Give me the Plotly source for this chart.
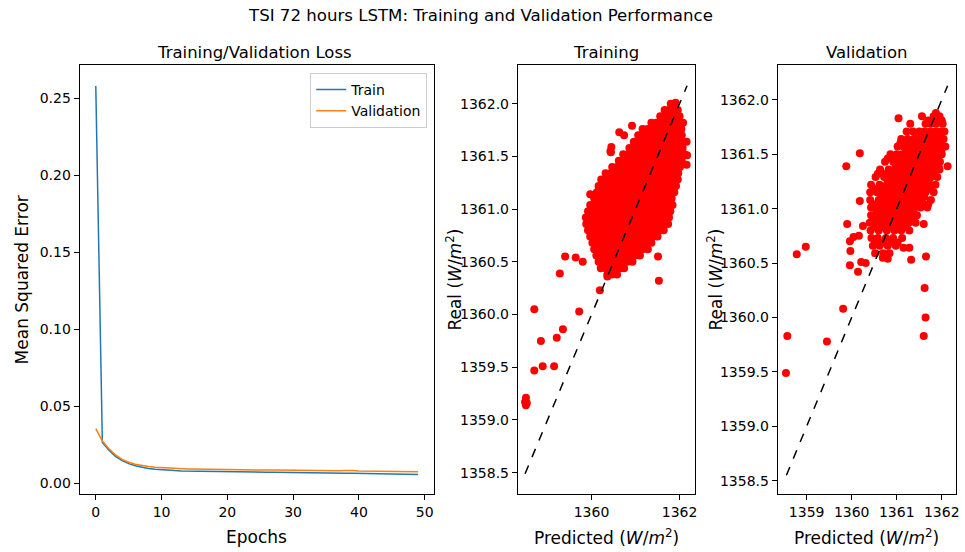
import plotly.graph_objects as go

# ---------------- data ----------------
epochs = list(range(50))
train_loss = [0.258, 0.0265, 0.0215, 0.0175, 0.0148, 0.0128, 0.0114, 0.0104, 0.0097, 0.0092,
              0.0088, 0.0085, 0.0083, 0.0081, 0.0080, 0.0079, 0.0078, 0.0077, 0.0076, 0.0076,
              0.0075, 0.0075, 0.0074, 0.0074, 0.0073, 0.0073, 0.0072, 0.0072, 0.0071, 0.0071,
              0.0070, 0.0070, 0.0069, 0.0069, 0.0068, 0.0068, 0.0067, 0.0067, 0.0066, 0.0066,
              0.0065, 0.0065, 0.0064, 0.0063, 0.0063, 0.0062, 0.0061, 0.0060, 0.0059, 0.0058]
val_loss = [0.0355, 0.0275, 0.0225, 0.0185, 0.0156, 0.0137, 0.0124, 0.0115, 0.0109, 0.0105,
            0.0102, 0.0099, 0.0097, 0.0095, 0.0094, 0.0093, 0.0092, 0.0091, 0.0090, 0.0090,
            0.0089, 0.0089, 0.0088, 0.0088, 0.0087, 0.0087, 0.0086, 0.0087, 0.0086, 0.0085,
            0.0085, 0.0085, 0.0084, 0.0084, 0.0083, 0.0083, 0.0082, 0.0082, 0.0083, 0.0084,
            0.0080, 0.0079, 0.0079, 0.0078, 0.0078, 0.0077, 0.0077, 0.0076, 0.0076, 0.0075]

# Training scatter: dense cloud, one real value per row with its predicted values
train_cloud_real = [1362.00, 1361.94, 1361.88, 1361.82, 1361.76, 1361.70, 1361.64, 1361.58,
                    1361.52, 1361.46, 1361.40, 1361.34, 1361.28, 1361.22, 1361.16, 1361.10,
                    1361.04, 1360.98, 1360.92, 1360.86, 1360.80, 1360.74, 1360.68, 1360.62,
                    1360.56, 1360.50, 1360.44, 1360.38]
train_cloud_pred = [
    [1361.80, 1361.90],
    [1361.66, 1361.76, 1361.86, 1361.96],
    [1361.56, 1361.67, 1361.78, 1361.89, 1362.00],
    [1361.36, 1361.47, 1361.58, 1361.69, 1361.80, 1361.91, 1362.02, 1362.08],
    [1361.16, 1361.27, 1361.38, 1361.49, 1361.60, 1361.71, 1361.82, 1361.93, 1362.04],
    [1361.06, 1361.17, 1361.28, 1361.39, 1361.50, 1361.61, 1361.72, 1361.83, 1361.94, 1362.05],
    [1360.96, 1361.07, 1361.18, 1361.29, 1361.40, 1361.51, 1361.62, 1361.73, 1361.84, 1361.95, 1362.06],
    [1360.86, 1360.97, 1361.08, 1361.19, 1361.30, 1361.41, 1361.52, 1361.63, 1361.74, 1361.85, 1361.96, 1362.07],
    [1360.72, 1360.83, 1360.94, 1361.05, 1361.16, 1361.27, 1361.38, 1361.49, 1361.60, 1361.71, 1361.82, 1361.93, 1362.04, 1362.11],
    [1360.62, 1360.73, 1360.84, 1360.95, 1361.06, 1361.17, 1361.28, 1361.39, 1361.50, 1361.61, 1361.72, 1361.83, 1361.94, 1362.05],
    [1360.47, 1360.58, 1360.69, 1360.80, 1360.91, 1361.02, 1361.13, 1361.24, 1361.35, 1361.46, 1361.57, 1361.68, 1361.79, 1361.90, 1362.01],
    [1360.32, 1360.43, 1360.54, 1360.65, 1360.76, 1360.87, 1360.98, 1361.09, 1361.20, 1361.31, 1361.42, 1361.53, 1361.64, 1361.75, 1361.86, 1361.97],
    [1360.22, 1360.33, 1360.44, 1360.55, 1360.66, 1360.77, 1360.88, 1360.99, 1361.10, 1361.21, 1361.32, 1361.43, 1361.54, 1361.65, 1361.76, 1361.87, 1361.96],
    [1360.16, 1360.27, 1360.38, 1360.49, 1360.60, 1360.71, 1360.82, 1360.93, 1361.04, 1361.15, 1361.26, 1361.37, 1361.48, 1361.59, 1361.70, 1361.81, 1361.92],
    [1360.12, 1360.23, 1360.34, 1360.45, 1360.56, 1360.67, 1360.78, 1360.89, 1361.00, 1361.11, 1361.22, 1361.33, 1361.44, 1361.55, 1361.66, 1361.77, 1361.88],
    [1360.06, 1360.17, 1360.28, 1360.39, 1360.50, 1360.61, 1360.72, 1360.83, 1360.94, 1361.05, 1361.16, 1361.27, 1361.38, 1361.49, 1361.60, 1361.71, 1361.82],
    [1359.97, 1360.08, 1360.19, 1360.30, 1360.41, 1360.52, 1360.63, 1360.74, 1360.85, 1360.96, 1361.07, 1361.18, 1361.29, 1361.40, 1361.51, 1361.62, 1361.73, 1361.84],
    [1359.92, 1360.03, 1360.14, 1360.25, 1360.36, 1360.47, 1360.58, 1360.69, 1360.80, 1360.91, 1361.02, 1361.13, 1361.24, 1361.35, 1361.46, 1361.57, 1361.68, 1361.79],
    [1359.87, 1359.98, 1360.09, 1360.20, 1360.31, 1360.42, 1360.53, 1360.64, 1360.75, 1360.86, 1360.97, 1361.08, 1361.19, 1361.30, 1361.41, 1361.52, 1361.63, 1361.76],
    [1359.88, 1359.99, 1360.10, 1360.21, 1360.32, 1360.43, 1360.54, 1360.65, 1360.76, 1360.87, 1360.98, 1361.09, 1361.20, 1361.31, 1361.42, 1361.53, 1361.64, 1361.74],
    [1359.92, 1360.03, 1360.14, 1360.25, 1360.36, 1360.47, 1360.58, 1360.69, 1360.80, 1360.91, 1361.02, 1361.13, 1361.24, 1361.35, 1361.46, 1361.57, 1361.64],
    [1359.97, 1360.08, 1360.19, 1360.30, 1360.41, 1360.52, 1360.63, 1360.74, 1360.85, 1360.96, 1361.07, 1361.18, 1361.29, 1361.40, 1361.50],
    [1360.02, 1360.13, 1360.24, 1360.35, 1360.46, 1360.57, 1360.68, 1360.79, 1360.90, 1361.01, 1361.12, 1361.23, 1361.36],
    [1360.06, 1360.17, 1360.28, 1360.39, 1360.50, 1360.61, 1360.72, 1360.83, 1360.94, 1361.05, 1361.16, 1361.28],
    [1360.11, 1360.22, 1360.33, 1360.44, 1360.55, 1360.66, 1360.77, 1360.88, 1360.99, 1361.10],
    [1360.16, 1360.27, 1360.38, 1360.49, 1360.60, 1360.71, 1360.82, 1360.93],
    [1360.21, 1360.32, 1360.43, 1360.54, 1360.65, 1360.74],
    [1360.36, 1360.47, 1360.58],
]
# Training scatter: isolated points
train_out_pred = [1358.51, 1358.49, 1358.53, 1358.51, 1358.70, 1358.70, 1358.85, 1358.89, 1359.15,
                  1359.21, 1359.35, 1359.72, 1359.28, 1359.40, 1359.64, 1359.80, 1360.19, 1359.97,
                  1361.53, 1361.51, 1360.92, 1360.63, 1360.74, 1360.45, 1360.44, 1361.91, 1362.16,
                  1362.17, 1362.16, 1360.36, 1360.43]
train_out_real = [1359.21, 1359.17, 1359.16, 1359.14, 1360.05, 1359.47, 1359.75, 1359.51, 1359.51,
                  1359.78, 1359.86, 1360.03, 1360.39, 1360.55, 1360.54, 1360.50, 1360.23, 1361.14,
                  1360.32, 1360.55, 1361.79, 1361.73, 1361.70, 1361.59, 1361.54, 1362.01, 1361.64,
                  1361.51, 1361.42, 1360.36, 1361.55]
train_line = [1358.49, 1362.17]

# Validation scatter: dense cloud rows
val_cloud_real = [1361.85, 1361.78, 1361.71, 1361.64, 1361.57, 1361.50, 1361.43, 1361.36,
                  1361.29, 1361.22, 1361.15, 1361.08, 1361.01, 1360.94, 1360.87, 1360.80,
                  1360.73, 1360.66, 1360.59,
                  1361.67, 1361.53, 1361.39, 1361.25, 1361.11, 1360.97, 1360.83, 1360.69,
                  1361.81, 1361.60, 1361.46, 1361.32, 1361.18, 1361.04, 1360.90]
val_cloud_pred = [
    [1361.82, 1361.95],
    [1361.30, 1361.64, 1361.76, 1361.88, 1362.02],
    [1361.22, 1361.36, 1361.50, 1361.62, 1361.74, 1361.86, 1361.98, 1362.06],
    [1361.10, 1361.24, 1361.38, 1361.50, 1361.62, 1361.74, 1361.86, 1361.98, 1362.04],
    [1361.02, 1361.15, 1361.28, 1361.41, 1361.54, 1361.67, 1361.80, 1361.93, 1362.02],
    [1360.86, 1361.00, 1361.12, 1361.25, 1361.38, 1361.51, 1361.64, 1361.77, 1361.90, 1362.00],
    [1360.74, 1360.92, 1361.05, 1361.18, 1361.31, 1361.44, 1361.57, 1361.70, 1361.83, 1361.96],
    [1360.63, 1360.82, 1360.96, 1361.09, 1361.22, 1361.35, 1361.48, 1361.61, 1361.74, 1361.87, 1361.95],
    [1360.53, 1360.72, 1360.86, 1360.99, 1361.12, 1361.25, 1361.38, 1361.51, 1361.64, 1361.77, 1361.90],
    [1360.43, 1360.62, 1360.78, 1360.92, 1361.05, 1361.18, 1361.31, 1361.44, 1361.57, 1361.70, 1361.86],
    [1360.41, 1360.56, 1360.72, 1360.86, 1360.99, 1361.12, 1361.25, 1361.38, 1361.51, 1361.64, 1361.82],
    [1360.41, 1360.60, 1360.76, 1360.90, 1361.03, 1361.16, 1361.29, 1361.42, 1361.55, 1361.76],
    [1360.43, 1360.58, 1360.74, 1360.88, 1361.01, 1361.14, 1361.27, 1361.40, 1361.53, 1361.68],
    [1360.43, 1360.62, 1360.78, 1360.92, 1361.05, 1361.18, 1361.31, 1361.45],
    [1360.40, 1360.56, 1360.72, 1360.88, 1361.01, 1361.14, 1361.27, 1361.42],
    [1360.42, 1360.60, 1360.78, 1360.95, 1361.10, 1361.28],
    [1360.44, 1360.58, 1360.76, 1360.92, 1361.12],
    [1360.47, 1360.62, 1360.80, 1360.98],
    [1360.52, 1360.70, 1360.84],
    [1361.44, 1361.57, 1361.70, 1361.83, 1361.96],
    [1361.21, 1361.34, 1361.47, 1361.60, 1361.73, 1361.86, 1361.99],
    [1360.98, 1361.15, 1361.28, 1361.41, 1361.54, 1361.67, 1361.80, 1361.93],
    [1360.80, 1360.93, 1361.06, 1361.19, 1361.32, 1361.45, 1361.58, 1361.71],
    [1360.66, 1360.83, 1360.96, 1361.09, 1361.22, 1361.35, 1361.48, 1361.61],
    [1360.55, 1360.70, 1360.85, 1360.98, 1361.11, 1361.24, 1361.37],
    [1360.50, 1360.66, 1360.82, 1360.97, 1361.08, 1361.22],
    [1360.53, 1360.68, 1360.88, 1361.02],
    [1361.70, 1361.90, 1362.00],
    [1361.08, 1361.20, 1361.33, 1361.46, 1361.59, 1361.72, 1361.85, 1361.98],
    [1360.80, 1360.98, 1361.11, 1361.24, 1361.37, 1361.50, 1361.63, 1361.76, 1361.89],
    [1360.58, 1360.76, 1360.90, 1361.03, 1361.16, 1361.29, 1361.42, 1361.55, 1361.68, 1361.81],
    [1360.50, 1360.66, 1360.82, 1360.96, 1361.09, 1361.22, 1361.35, 1361.48, 1361.61, 1361.74],
    [1360.47, 1360.64, 1360.80, 1360.94, 1361.07, 1361.20, 1361.33, 1361.46, 1361.60],
    [1360.49, 1360.66, 1360.84, 1360.98, 1361.12, 1361.25, 1361.36],
]
# Validation scatter: isolated points
val_out_pred = [1358.54, 1358.57, 1358.78, 1358.98, 1359.45, 1359.81, 1359.88, 1360.18, 1359.90,
                1359.96, 1359.97, 1359.96, 1360.14, 1360.18, 1360.25, 1361.04, 1361.56, 1361.62,
                1361.64, 1361.60, 1361.65, 1362.13, 1362.08, 1361.87, 1360.16, 1360.04, 1360.21,
                1360.31, 1360.69, 1360.80, 1361.28, 1361.32, 1361.15, 1361.70, 1361.60]
val_out_real = [1359.49, 1359.83, 1360.58, 1360.65, 1359.78, 1360.08, 1361.39, 1361.51, 1360.86,
                1360.70, 1360.61, 1360.48, 1360.42, 1361.07, 1360.84, 1361.83, 1361.85, 1360.27,
                1360.00, 1359.83, 1360.56, 1361.39, 1361.57, 1361.88, 1360.75, 1360.74, 1360.51,
                1360.50, 1360.55, 1360.54, 1360.64, 1360.53, 1360.64, 1361.04, 1360.86]
val_line = [1358.55, 1362.13]

# ---------------- figure ----------------
W, H = 965, 552
FONT = "DejaVu Sans"


def px_x(p):
    return p / W


def px_y(p):
    return 1 - p / H


def expand(real_rows, pred_rows):
    xs, ys = [], []
    for r, preds in zip(real_rows, pred_rows):
        for p in preds:
            xs.append(p)
            ys.append(r)
    return xs, ys


tcx, tcy = expand(train_cloud_real, train_cloud_pred)
vcx, vcy = expand(val_cloud_real, val_cloud_pred)

fig = go.Figure()

fig.add_trace(go.Scatter(x=epochs, y=train_loss, mode="lines", name="Train",
                         line=dict(color="#1f77b4", width=1.5), xaxis="x", yaxis="y"))
fig.add_trace(go.Scatter(x=epochs, y=val_loss, mode="lines", name="Validation",
                         line=dict(color="#ff7f0e", width=1.5), xaxis="x", yaxis="y"))

mk = dict(color="red", size=8, line=dict(width=0))
fig.add_trace(go.Scatter(x=tcx + train_out_pred, y=tcy + train_out_real, mode="markers",
                         marker=mk, showlegend=False, xaxis="x2", yaxis="y2"))
fig.add_trace(go.Scatter(x=train_line, y=train_line, mode="lines", showlegend=False,
                         line=dict(color="black", width=1.5, dash="dash"), xaxis="x2", yaxis="y2"))
fig.add_trace(go.Scatter(x=vcx + val_out_pred, y=vcy + val_out_real, mode="markers",
                         marker=mk, showlegend=False, xaxis="x3", yaxis="y3"))
fig.add_trace(go.Scatter(x=val_line, y=val_line, mode="lines", showlegend=False,
                         line=dict(color="black", width=1.5, dash="dash"), xaxis="x3", yaxis="y3"))

ax_common = dict(showline=True, mirror=True, linecolor="black", linewidth=1,
                 ticks="outside", ticklen=5, tickwidth=1, tickcolor="black",
                 showgrid=False, zeroline=False,
                 tickfont=dict(family=FONT, size=14, color="black"))

ydom = [px_y(494), px_y(65)]
fig.update_layout(
    width=W, height=H,
    margin=dict(l=0, r=0, t=0, b=0),
    paper_bgcolor="white", plot_bgcolor="white",
    font=dict(family=FONT, color="black"),
    xaxis=dict(domain=[px_x(80), px_x(436)], range=[-2.45, 51.45], tickvals=[0, 10, 20, 30, 40, 50],
               anchor="y", **ax_common),
    yaxis=dict(domain=ydom, range=[-0.0069, 0.2716], tickvals=[0, 0.05, 0.10, 0.15, 0.20, 0.25],
               tickformat=".2f", anchor="x", **ax_common),
    xaxis2=dict(domain=[px_x(520), px_x(698.3)], range=[1358.326, 1362.36], tickvals=[1360, 1362],
                anchor="y2", **ax_common),
    yaxis2=dict(domain=ydom, range=[1358.298, 1362.367],
                tickvals=[1358.5, 1359.0, 1359.5, 1360.0, 1360.5, 1361.0, 1361.5, 1362.0],
                tickformat=".1f", anchor="x2", **ax_common),
    xaxis3=dict(domain=[px_x(781), px_x(959.7)], range=[1358.358, 1362.31],
                tickvals=[1359, 1360, 1361, 1362], anchor="y3", **ax_common),
    yaxis3=dict(domain=ydom, range=[1358.378, 1362.32],
                tickvals=[1358.5, 1359.0, 1359.5, 1360.0, 1360.5, 1361.0, 1361.5, 1362.0],
                tickformat=".1f", anchor="x3", **ax_common),
    legend=dict(x=px_x(429), y=px_y(73), xanchor="right", yanchor="top",
                bgcolor="rgba(255,255,255,0.8)", bordercolor="#cccccc", borderwidth=1,
                font=dict(family=FONT, size=14, color="black"), tracegroupgap=0),
    showlegend=True,
)

unit = "(<i>W</i>/<i>m</i><sup>2</sup>)"
ann = [
    dict(text="TSI 72 hours LSTM: Training and Validation Performance", x=0.4995, y=px_y(15), size=16.6, angle=0),
    dict(text="Training/Validation Loss", x=px_x(256), y=px_y(53), size=16.5, angle=0),
    dict(text="Training", x=px_x(609), y=px_y(53), size=16.5, angle=0),
    dict(text="Validation", x=px_x(870), y=px_y(53), size=16.5, angle=0),
    dict(text="Epochs", x=px_x(258), y=px_y(537), size=17, angle=0),
    dict(text="Predicted " + unit, x=px_x(609), y=px_y(537), size=17, angle=0),
    dict(text="Predicted " + unit, x=px_x(870), y=px_y(537), size=17, angle=0),
    dict(text="Mean Squared Error", x=px_x(22), y=px_y(279.5), size=17, angle=-90),
    dict(text="Real " + unit, x=px_x(455), y=px_y(279.5), size=17, angle=-90),
    dict(text="Real " + unit, x=px_x(717), y=px_y(279.5), size=17, angle=-90),
]
for a in ann:
    fig.add_annotation(text=a["text"], x=a["x"], y=a["y"], xref="paper", yref="paper",
                       xanchor="center", yanchor="middle", showarrow=False, textangle=a["angle"],
                       font=dict(family=FONT, size=a["size"], color="black"))

fig.write_html("out.html", config={"displayModeBar": False},
               post_script="document.body.style.margin='0';document.body.style.overflow='hidden';")
